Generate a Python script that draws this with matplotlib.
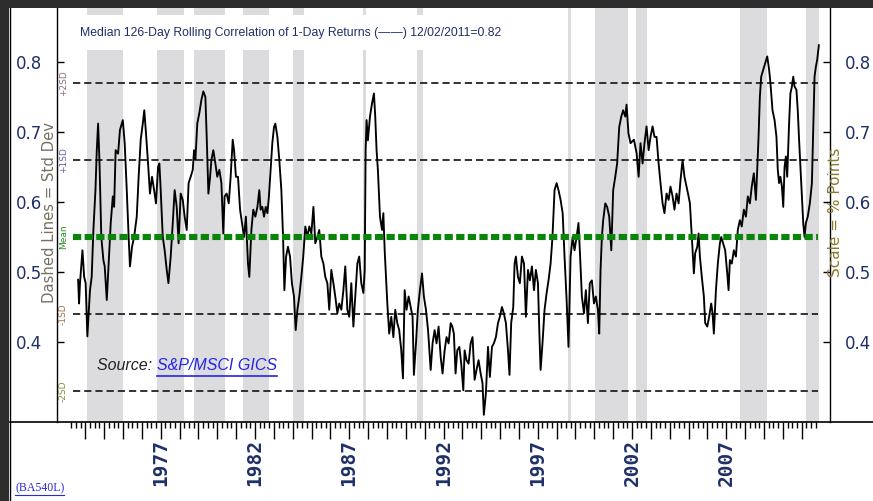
import matplotlib
matplotlib.use('Agg')
import matplotlib.pyplot as plt
from matplotlib.patches import Rectangle
from matplotlib.lines import Line2D

# median 126-day rolling correlation (decimal year, value)
years = [
    1972.62, 1972.67, 1972.72, 1972.85, 1972.94, 1973.02, 1973.11, 1973.25, 1973.34, 1973.43,
    1973.54, 1973.61, 1973.68, 1973.75, 1973.85, 1973.96, 1974.03, 1974.14, 1974.24, 1974.35,
    1974.46, 1974.53, 1974.61, 1974.74, 1974.84, 1974.99, 1975.09, 1975.20, 1975.30, 1975.37,
    1975.48, 1975.59, 1975.73, 1975.83, 1975.94, 1976.05, 1976.13, 1976.22, 1976.33, 1976.43,
    1976.54, 1976.65, 1976.75, 1976.86, 1976.93, 1977.00, 1977.11, 1977.21, 1977.32, 1977.41,
    1977.53, 1977.64, 1977.74, 1977.85, 1977.95, 1978.06, 1978.17, 1978.27, 1978.38, 1978.48,
    1978.59, 1978.70, 1978.77, 1978.84, 1978.94, 1979.05, 1979.16, 1979.26, 1979.37, 1979.44,
    1979.53, 1979.62, 1979.69, 1979.79, 1979.90, 1980.00, 1980.11, 1980.22, 1980.32, 1980.39,
    1980.50, 1980.61, 1980.71, 1980.82, 1980.89, 1980.99, 1981.10, 1981.21, 1981.31, 1981.42,
    1981.52, 1981.63, 1981.70, 1981.81, 1981.91, 1982.02, 1982.13, 1982.23, 1982.30,
    1982.39, 1982.48, 1982.57, 1982.66, 1982.74, 1982.83, 1982.92, 1983.01, 1983.08, 1983.19,
    1983.29, 1983.40, 1983.49, 1983.56, 1983.65, 1983.75, 1983.86, 1983.96, 1984.07, 1984.16,
    1984.25, 1984.35, 1984.46, 1984.56, 1984.67, 1984.78, 1984.88, 1984.99, 1985.10, 1985.20,
    1985.31, 1985.41, 1985.52, 1985.63, 1985.73, 1985.84, 1985.94, 1986.05, 1986.16, 1986.26,
    1986.37, 1986.47, 1986.58, 1986.69, 1986.79, 1986.90, 1987.00, 1987.11, 1987.22, 1987.32,
    1987.43, 1987.53, 1987.64, 1987.75, 1987.82, 1987.87, 1987.92, 1987.99, 1988.10, 1988.21,
    1988.31, 1988.38, 1988.45, 1988.52, 1988.63, 1988.74, 1988.81, 1988.88, 1988.95, 1989.02,
    1989.12, 1989.23, 1989.34, 1989.44, 1989.55, 1989.65, 1989.76, 1989.85, 1989.94, 1990.04,
    1990.15, 1990.26, 1990.36, 1990.43, 1990.54, 1990.64, 1990.75, 1990.86, 1990.96, 1991.07,
    1991.18, 1991.32, 1991.42, 1991.53, 1991.63, 1991.74, 1991.85, 1991.95, 1992.06, 1992.16,
    1992.27, 1992.38,
    1992.47, 1992.55, 1992.64, 1992.73, 1992.84, 1992.94, 1993.05, 1993.12, 1993.22, 1993.33,
    1993.44, 1993.54, 1993.65, 1993.75, 1993.86, 1993.97, 1994.07, 1994.14, 1994.25, 1994.36,
    1994.46, 1994.57, 1994.67, 1994.78, 1994.89, 1994.99, 1995.10, 1995.20, 1995.31, 1995.42,
    1995.50, 1995.59, 1995.70, 1995.77, 1995.84, 1995.95, 1996.05, 1996.16, 1996.27, 1996.37,
    1996.48, 1996.58, 1996.69, 1996.80, 1996.90, 1997.01, 1997.08, 1997.15, 1997.25, 1997.36,
    1997.47, 1997.57, 1997.68, 1997.78, 1997.89, 1998.00, 1998.10, 1998.21, 1998.32, 1998.42,
    1998.53, 1998.63, 1998.74, 1998.85, 1998.95, 1999.06, 1999.16, 1999.23, 1999.34, 1999.45,
    1999.55, 1999.66, 1999.76, 1999.87, 1999.98, 2000.08, 2000.19, 2000.26, 2000.33, 2000.40,
    2000.47, 2000.58, 2000.68, 2000.79, 2000.90, 2001.00, 2001.11, 2001.21, 2001.32, 2001.43,
    2001.53, 2001.64, 2001.71, 2001.81, 2001.92,
    2002.10, 2002.24, 2002.35, 2002.45, 2002.56, 2002.66, 2002.77, 2002.88, 2002.98, 2003.09,
    2003.19, 2003.30, 2003.41, 2003.51, 2003.62, 2003.72, 2003.83, 2003.94, 2004.04, 2004.15,
    2004.25, 2004.36, 2004.47, 2004.57, 2004.68, 2004.78, 2004.89, 2005.00, 2005.07, 2005.14,
    2005.21, 2005.28, 2005.35, 2005.46, 2005.53, 2005.60, 2005.70, 2005.81, 2005.88, 2005.99,
    2006.09, 2006.20, 2006.27, 2006.34, 2006.45, 2006.55, 2006.66, 2006.73, 2006.83, 2006.94,
    2007.05, 2007.12, 2007.19, 2007.29, 2007.40, 2007.51, 2007.61, 2007.72, 2007.82, 2007.93,
    2008.04, 2008.14, 2008.25, 2008.35, 2008.46, 2008.57, 2008.64, 2008.71, 2008.78, 2008.85,
    2008.96, 2009.06, 2009.17, 2009.27, 2009.34, 2009.45, 2009.56, 2009.66, 2009.73, 2009.80,
    2009.87, 2009.95, 2010.02, 2010.09, 2010.16, 2010.23, 2010.33, 2010.40, 2010.48, 2010.55,
    2010.62, 2010.72, 2010.79, 2010.86, 2010.94, 2011.01, 2011.08, 2011.15, 2011.22, 2011.32,
    2011.43, 2011.54, 2011.61, 2011.68, 2011.75, 2011.82, 2011.91,
]
corr = [
    0.489, 0.455, 0.484, 0.531, 0.493, 0.484, 0.408, 0.474, 0.493, 0.560,
    0.617, 0.674, 0.712, 0.660, 0.550, 0.517, 0.508, 0.460, 0.512, 0.570,
    0.608, 0.593, 0.674, 0.669, 0.703, 0.717, 0.684, 0.617, 0.550, 0.508,
    0.536, 0.550, 0.579, 0.636, 0.689, 0.712, 0.731, 0.698, 0.655, 0.612,
    0.636, 0.617, 0.598, 0.650, 0.655, 0.617, 0.550, 0.531, 0.503, 0.484,
    0.522, 0.570, 0.617, 0.593, 0.541, 0.612, 0.603, 0.579, 0.560, 0.627,
    0.636, 0.646, 0.674, 0.660, 0.712, 0.727, 0.746, 0.758, 0.750, 0.693,
    0.612, 0.636, 0.660, 0.674, 0.655, 0.636, 0.646, 0.627, 0.555, 0.608,
    0.612, 0.598, 0.636, 0.689, 0.674, 0.636, 0.636, 0.589, 0.570, 0.550,
    0.579, 0.512, 0.493, 0.560, 0.589, 0.579, 0.593, 0.617, 0.589,
    0.593, 0.579, 0.593, 0.584, 0.608, 0.646, 0.684, 0.707, 0.712, 0.693,
    0.660, 0.617, 0.550, 0.474, 0.522, 0.536, 0.522, 0.484, 0.465, 0.417,
    0.446, 0.465, 0.493, 0.522, 0.565, 0.550, 0.565, 0.555, 0.593, 0.541,
    0.550, 0.560, 0.522, 0.512, 0.493, 0.484, 0.446, 0.503, 0.484, 0.465,
    0.441, 0.455, 0.446, 0.474, 0.508, 0.446, 0.436, 0.484, 0.422, 0.465,
    0.512, 0.522, 0.484, 0.470, 0.503, 0.674, 0.717, 0.688, 0.722, 0.741,
    0.755, 0.722, 0.674, 0.646, 0.579, 0.560, 0.584, 0.531, 0.493, 0.455,
    0.412, 0.436, 0.407, 0.446, 0.427, 0.417, 0.388, 0.348, 0.474, 0.446,
    0.465, 0.450, 0.436, 0.353, 0.398, 0.446, 0.474, 0.498, 0.465, 0.446,
    0.417, 0.360, 0.398, 0.417, 0.398, 0.422, 0.379, 0.355, 0.388, 0.407,
    0.398, 0.427,
    0.422, 0.412, 0.355, 0.388, 0.393, 0.369, 0.331, 0.388, 0.374, 0.369,
    0.398, 0.407, 0.346, 0.360, 0.374, 0.355, 0.341, 0.296, 0.327, 0.393,
    0.350, 0.393, 0.398, 0.407, 0.427, 0.436, 0.450, 0.441, 0.427, 0.388,
    0.353, 0.427, 0.450, 0.512, 0.522, 0.493, 0.484, 0.522, 0.512, 0.436,
    0.503, 0.488, 0.508, 0.474, 0.503, 0.484, 0.417, 0.360, 0.398, 0.446,
    0.470, 0.488, 0.512, 0.550, 0.617, 0.627, 0.617, 0.603, 0.584, 0.522,
    0.460, 0.393, 0.522, 0.550, 0.531, 0.550, 0.570, 0.531, 0.465, 0.441,
    0.474, 0.427, 0.484, 0.488, 0.455, 0.465, 0.446, 0.412, 0.503, 0.550,
    0.574, 0.598, 0.593, 0.579, 0.531, 0.617, 0.636, 0.655, 0.707, 0.722,
    0.731, 0.722, 0.739, 0.698, 0.684,
    0.689, 0.670, 0.636, 0.684, 0.655, 0.684, 0.708, 0.674, 0.693, 0.708,
    0.693, 0.693, 0.655, 0.627, 0.598, 0.584, 0.612, 0.603, 0.622, 0.608,
    0.589, 0.612, 0.598, 0.631, 0.660, 0.636, 0.622, 0.608, 0.598, 0.565,
    0.531, 0.498, 0.527, 0.536, 0.555, 0.522, 0.493, 0.465, 0.427, 0.422,
    0.436, 0.455, 0.441, 0.412, 0.474, 0.512, 0.541, 0.550, 0.541, 0.531,
    0.498, 0.474, 0.517, 0.512, 0.531, 0.522, 0.560, 0.574, 0.565, 0.589,
    0.579, 0.608, 0.598, 0.622, 0.641, 0.603, 0.646, 0.693, 0.750, 0.779,
    0.789, 0.798, 0.808, 0.789, 0.770, 0.731, 0.717, 0.693, 0.646, 0.627,
    0.636, 0.622, 0.593, 0.650, 0.665, 0.636, 0.712, 0.755, 0.765, 0.779,
    0.765, 0.760, 0.731, 0.689, 0.646, 0.608, 0.570, 0.550, 0.570, 0.579,
    0.598, 0.627, 0.703, 0.779, 0.793, 0.803, 0.824,
]
assert len(years) == len(corr)

# grey shaded periods
shade_start = [1973.08, 1976.79, 1978.75, 1981.35, 1984.00, 1987.71, 1990.57,
               1998.58, 2000.01, 2002.19, 2007.75, 2011.25]
shade_end = [1974.99, 1978.22, 1980.39, 1982.73, 1984.58, 1987.87, 1990.89,
             1998.74, 2001.76, 2002.82, 2009.18, 2011.94]

mean_corr = 0.55
sd_corr = 0.11
sd_mult = [2, 1, -1, -2]
sd_names = ['+2SD', '+1SD', '-1SD', '-2SD']
sd_colors = ['#8a6a80', '#5a6aa8', '#a0704a', '#7f8a40']
y_ticks = [0.4, 0.5, 0.6, 0.7, 0.8]
label_years = [1977, 1982, 1987, 1992, 1997, 2002, 2007]

W, H = 873, 501
navy = '#1f3068'


def fx(px):
    return px / W


def fy(py):
    return 1 - py / H


fig = plt.figure(figsize=(W / 100, H / 100), dpi=100)
ax = fig.add_axes([fx(57), fy(422), fx(830) - fx(57), fy(8) - fy(422)])
ax.set_xlim(1971.5, 2012.5)
ax.set_ylim(0.2857, 0.8771)

for s, e in zip(shade_start, shade_end):
    ax.axvspan(s, e, color='#dcdcde', lw=0, zorder=0)

line_x = [1972.33, 2011.89]
for m in sd_mult:
    lvl = mean_corr + m * sd_corr
    ax.plot(line_x, [lvl, lvl], color='#222222', lw=1.3, ls=(0, (4, 2.2)), zorder=2)
ax.plot(years, corr, color='black', lw=1.35, zorder=3)
ax.plot(line_x, [mean_corr, mean_corr], color='#0b840b', lw=4.4,
        ls=(0, (1.35, 0.55)), dash_capstyle='butt', zorder=4)

# small labels next to the std-dev lines
yx = ax.get_yaxis_transform()
for m, name, c in zip(sd_mult, sd_names, sd_colors):
    ax.text(0.008, mean_corr + m * sd_corr, name, transform=yx, rotation=90,
            ha='center', va='center', fontsize=6.5, color=c)
ax.text(0.008, mean_corr, 'Mean', transform=yx, rotation=90,
        ha='center', va='center', fontsize=6.5, color='#2f8a2f')

# spines and ticks
ax.spines['top'].set_visible(False)
ax.spines['bottom'].set_visible(False)
for side in ['left', 'right']:
    ax.spines[side].set_linewidth(1.0)
ax.set_yticks(y_ticks)
ax.set_yticklabels([f'{v:.1f}' for v in y_ticks])
ax.tick_params(axis='y', direction='in', length=5, width=1, left=True, right=True,
               labelleft=True, labelright=True, pad=11, labelsize=12,
               labelcolor=navy)

all_years = list(range(1973, 2012))
ax.set_xticks(all_years)
ax.set_xticklabels([str(y) if y in label_years else '' for y in all_years],
                   rotation=90, fontsize=14, fontweight='bold', color=navy,
                   family='DejaVu Sans Mono')
quarters = [y + q for y in range(1972, 2012) for q in (0.25, 0.5, 0.75)]
ax.set_xticks(quarters, minor=True)
ax.tick_params(axis='x', which='major', direction='out', length=12, width=1, pad=0)
ax.tick_params(axis='x', which='minor', direction='out', length=4.5, width=1)

# white box behind the title
ax.add_patch(Rectangle((fx(74), fy(50)), fx(506) - fx(74), fy(15) - fy(50),
                       transform=fig.transFigure, facecolor='white',
                       edgecolor='none', zorder=1, clip_on=False))
fig.text(fx(80), fy(33),
         'Median 126-Day Rolling Correlation of 1-Day Returns (\u2014\u2014) 12/02/2011=0.82',
         ha='left', va='center', fontsize=8.8, color=navy, family='Liberation Sans')

fig.text(fx(50), fy(212), 'Dashed Lines = Std Dev', rotation=90, ha='center',
         va='center', fontsize=10.7, color='#77705e')
fig.text(fx(836), fy(212), 'Scale = % Points', rotation=90, ha='center',
         va='center', fontsize=11, color='#8a7a30')

# frame: dark strips top and left, page border lines
fig.add_artist(Rectangle((0, fy(8)), 1, 1 - fy(8), transform=fig.transFigure,
                         facecolor='#2d2d2d', edgecolor='none', zorder=10))
fig.add_artist(Rectangle((0, 0), fx(9), 1, transform=fig.transFigure,
                         facecolor='#2d2d2d', edgecolor='none', zorder=10))
fig.add_artist(Line2D([fx(9.5), fx(9.5)], [0, fy(8)], transform=fig.transFigure,
                      color='black', lw=1, zorder=11))
fig.add_artist(Line2D([fx(9.5), 1], [fy(422), fy(422)], transform=fig.transFigure,
                      color='black', lw=1.2, zorder=11))

# source text with underlined link
src = fig.text(fx(97), fy(366), 'Source: ', ha='left', va='center', fontsize=11.5,
               style='italic', color='#222222', family='Liberation Sans')
fig.canvas.draw()
r = fig.canvas.get_renderer()
bb = src.get_window_extent(r)
link = fig.text(bb.x1 / W, fy(366), 'S&P/MSCI GICS', ha='left', va='center',
                fontsize=11.5, style='italic', color='#2424e8', family='Liberation Sans')
fig.canvas.draw()
lb = link.get_window_extent(r)
fig.add_artist(Line2D([lb.x0 / W, lb.x1 / W], [fy(376), fy(376)],
                      transform=fig.transFigure, color='#2424e8', lw=1.2))

code = fig.text(fx(15), fy(488), '(BA540L)', ha='left', va='center', fontsize=8.5,
                color='#2a2ad0', family='Liberation Serif')
fig.canvas.draw()
cb = code.get_window_extent(r)
fig.add_artist(Line2D([cb.x0 / W, cb.x1 / W], [fy(495), fy(495)],
                      transform=fig.transFigure, color='#2a2ad0', lw=0.8))

fig.savefig('out.png', dpi=100)
